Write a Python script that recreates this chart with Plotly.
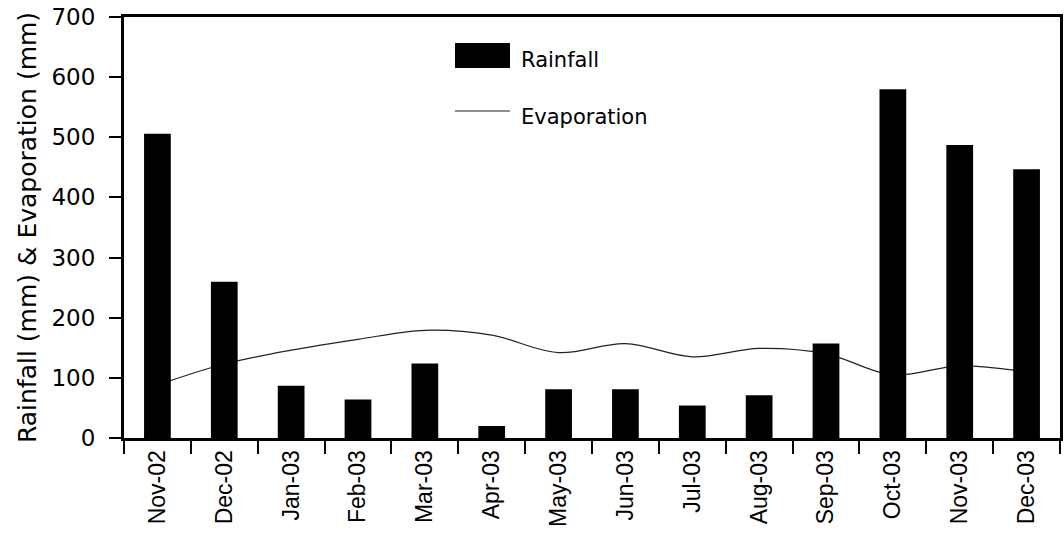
import plotly.graph_objects as go

months = ["Nov-02", "Dec-02", "Jan-03", "Feb-03", "Mar-03", "Apr-03", "May-03",
          "Jun-03", "Jul-03", "Aug-03", "Sep-03", "Oct-03", "Nov-03", "Dec-03"]
rainfall = [506, 260, 87, 64, 124, 20, 81, 81, 54, 71, 157, 580, 487, 447]
evaporation = [88, 123, 146, 164, 179, 171, 142, 157, 135, 149, 140, 105, 120, 110]
y_ticks = [0, 100, 200, 300, 400, 500, 600, 700]

W, H = 1064, 548
L, R, T, B = 124, 1060, 17, 438

def px(x):
    return (x - L) / (R - L)

def py(y):
    return (B - y) / (B - T)

fig = go.Figure()
fig.add_trace(go.Scatter(x=months, y=evaporation, mode="lines", name="Evaporation",
                         line=dict(color="#222222", width=1.2, shape="spline", smoothing=1.0),
                         yaxis="y", showlegend=False))
fig.add_trace(go.Bar(x=months, y=rainfall, name="Rainfall", marker=dict(color="black", line=dict(width=0)),
                     yaxis="y2", showlegend=False))

tick_font = dict(family="DejaVu Sans", size=23, color="black")
fig.update_layout(
    width=W, height=H,
    margin=dict(l=L, r=W - R, t=T, b=H - B, autoexpand=False),
    paper_bgcolor="white", plot_bgcolor="white",
    bargap=0.6,
    xaxis=dict(type="category", range=[-0.5, 13.5], showline=True, mirror=True, linewidth=3,
               linecolor="black", ticks="outside", tickson="boundaries", ticklen=13, tickwidth=1.5,
               tickcolor="black", tickangle=-90, showgrid=False, automargin=False,
               ticklabeloverflow="allow",
               tickfont=dict(family="Liberation Sans, Arial", size=23, color="black")),
    yaxis=dict(range=[0, 700], tickvals=y_ticks, showline=True, mirror=True, linewidth=3,
               linecolor="black", ticks="outside", ticklen=12, tickwidth=1.5, tickcolor="black",
               showgrid=False, zeroline=False, tickfont=tick_font, ticklabelstandoff=9,
               automargin=False, ticklabeloverflow="allow",
               title=dict(text="Rainfall (mm) & Evaporation (mm)", standoff=8,
                          font=dict(family="DejaVu Sans", size=25, color="black"))),
    yaxis2=dict(range=[0, 700], overlaying="y", visible=False, showgrid=False, zeroline=False,
                automargin=False),
)

# legend drawn as in reference
fig.add_shape(type="rect", xref="paper", yref="paper", x0=px(455), x1=px(510), y0=py(68), y1=py(43),
              fillcolor="black", line=dict(width=0))
fig.add_shape(type="line", xref="paper", yref="paper", x0=px(455), x1=px(510), y0=py(111), y1=py(111),
              line=dict(color="#222222", width=1.2))
fig.add_annotation(xref="paper", yref="paper", x=px(519), y=py(60), text="Rainfall", showarrow=False,
                   xanchor="left", yanchor="middle", font=dict(family="DejaVu Sans", size=21, color="black"))
fig.add_annotation(xref="paper", yref="paper", x=px(519), y=py(117), text="Evaporation", showarrow=False,
                   xanchor="left", yanchor="middle", font=dict(family="DejaVu Sans", size=21, color="black"))

fig.write_html("out.html", config={"displayModeBar": False},
               post_script="document.body.style.margin='0';")
